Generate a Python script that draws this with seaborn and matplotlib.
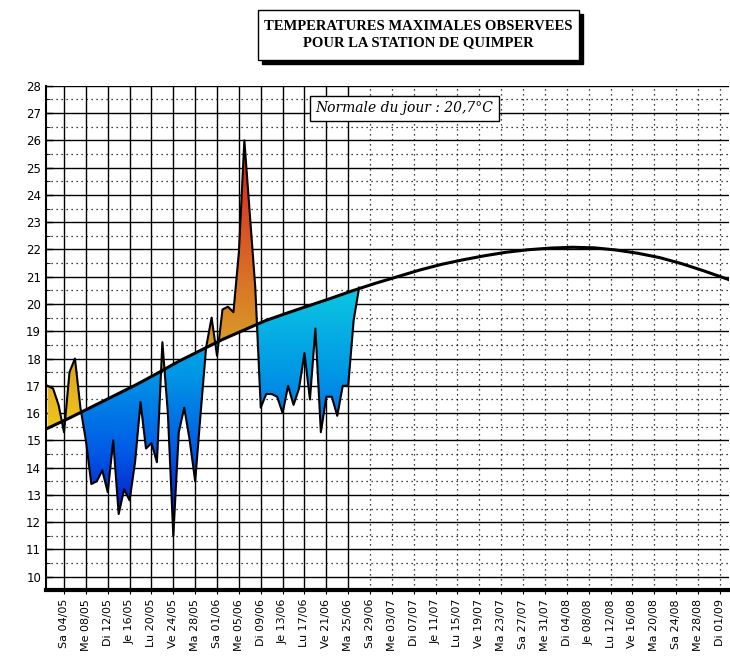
import numpy as np
import pandas as pd
import matplotlib
matplotlib.use("Agg")
import matplotlib.pyplot as plt
from matplotlib.colors import LinearSegmentedColormap
from matplotlib.path import Path
import seaborn as sns
import datetime as dt

# ---- data (day index 0 = 1 May 2013) ----
obs_days = list(range(0, 58))
obs_temps = [17.0, 16.9, 16.3, 15.3, 17.5, 18.0, 16.2, 15.0, 13.4, 13.5,
             13.9, 13.1, 15.0, 12.3, 13.2, 12.8, 14.2, 16.4, 14.7, 14.9,
             14.2, 18.6, 16.0, 11.5, 15.3, 16.2, 15.0, 13.5, 16.0, 18.4,
             19.5, 18.1, 19.8, 19.9, 19.7, 21.9, 26.0, 23.3, 20.6, 16.2,
             16.7, 16.7, 16.6, 16.0, 17.0, 16.3, 16.9, 18.2, 16.5, 19.1,
             15.3, 16.6, 16.6, 15.9, 17.0, 17.0, 19.4, 20.6]
normal_days = [-1, 4, 8, 12, 16, 20, 24, 28, 32, 36, 40, 44, 48, 52, 56, 60, 64,
               68, 72, 76, 80, 84, 88, 92, 96, 100, 104, 108, 112, 116, 120, 124, 126]
normal_temps = [15.35, 15.82, 16.22, 16.62, 17.02, 17.45, 17.9, 18.3, 18.7, 19.05,
                19.4, 19.68, 19.95, 20.22, 20.5, 20.76, 21.0, 21.24, 21.45, 21.62,
                21.77, 21.9, 21.99, 22.05, 22.08, 22.06, 21.98, 21.86, 21.7, 21.48,
                21.22, 20.94, 20.8]
tick_days = list(range(3, 124, 4))
day_abbr = ["Lu", "Ma", "Me", "Je", "Ve", "Sa", "Di"]
start = dt.date(2013, 5, 1)
tick_labels = [f"{day_abbr[(start + dt.timedelta(d)).weekday()]} {(start + dt.timedelta(d)).strftime('%d/%m')}"
               for d in tick_days]
title_text = "TEMPERATURES MAXIMALES OBSERVEES\nPOUR LA STATION DE QUIMPER"
normal_text = "Normale du jour : 20,7°C"

obs = pd.DataFrame({"day": obs_days, "temp": obs_temps})
nrm = pd.DataFrame({"day": normal_days, "temp": normal_temps})

fig = plt.figure(figsize=(7.30, 6.65), dpi=100)
ax = fig.add_axes([0.063, 0.113, 0.935, 0.758])
x0, x1, y0, y1 = -0.3, 124.6, 9.52, 28
ax.set_xlim(x0, x1)
ax.set_ylim(y0, y1)

data_end = 59
for t in range(10, 29):
    ax.axhline(t, color="black", lw=1.0, zorder=1)
for t in np.arange(10.5, 28, 1):
    ax.axhline(t, color="black", lw=0.9, ls=(0, (1, 3)), zorder=1)
for d in tick_days:
    if d < data_end:
        ax.axvline(d, color="black", lw=1.0, zorder=1)
    else:
        ax.axvline(d, color="black", lw=0.9, ls=(0, (1, 3)), zorder=1)

xd = np.array(obs_days, float)
yd = np.array(obs_temps, float)
nd = np.interp(xd, normal_days, normal_temps)
cold = ax.fill_between(xd, yd, nd, where=yd < nd, interpolate=True, color="none")
warm = ax.fill_between(xd, yd, nd, where=yd >= nd, interpolate=True, color="none")
cmap_cold = LinearSegmentedColormap.from_list("c", [(0.05, 0.0, 0.75), (0.0, 0.35, 0.9), (0.0, 0.6, 0.9), (0.05, 0.78, 0.88)])
cmap_warm = LinearSegmentedColormap.from_list("w", [(0.95, 0.8, 0.1), (0.85, 0.6, 0.15), (0.85, 0.35, 0.15), (0.85, 0.1, 0.1)])
grad = np.linspace(0, 1, 256).reshape(-1, 1)
for coll, cm, lo, hi in [(cold, cmap_cold, 11.5, 20.6), (warm, cmap_warm, 15.0, 26.0)]:
    paths = coll.get_paths()
    if not paths:
        continue
    cp = Path.make_compound_path(*paths)
    im = ax.imshow(grad, cmap=cm, aspect="auto", origin="lower",
                   extent=[x0, x1, lo, hi], zorder=2)
    im.set_clip_path(cp, transform=ax.transData)
ax.set_xlim(x0, x1)
ax.set_ylim(y0, y1)

sns.lineplot(data=obs, x="day", y="temp", ax=ax, color="black", lw=1.5, zorder=3)
sns.lineplot(data=nrm, x="day", y="temp", ax=ax, color="black", lw=2.2, zorder=4)

ax.set_xticks(tick_days)
ax.set_xticklabels(tick_labels, rotation=90, fontsize=8, family="DejaVu Sans")
ax.set_yticks(range(10, 29))
ax.set_yticklabels([str(t) for t in range(10, 29)], fontsize=8.5)
ax.set_yticks(np.arange(10.5, 28, 1), minor=True)
ax.tick_params(axis="y", direction="in", length=5, width=1)
ax.tick_params(axis="y", which="minor", direction="in", length=3)
ax.tick_params(axis="x", direction="out", length=3)
ax.set_xlabel("")
ax.set_ylabel("")
for s in ["top", "right"]:
    ax.spines[s].set_visible(False)
ax.spines["left"].set_linewidth(1.5)
ax.spines["bottom"].set_linewidth(3)

ax.text(0.395, 0.955, normal_text, transform=ax.transAxes, fontsize=10,
        family="DejaVu Serif", style="italic", ha="left", va="center",
        bbox=dict(boxstyle="square,pad=0.4", fc="white", ec="black", lw=1), zorder=6)

fig.patches.append(plt.Rectangle((0.359, 0.904), 0.44, 0.075, transform=fig.transFigure,
                                 fc="black", ec="black", zorder=0))
fig.patches.append(plt.Rectangle((0.353, 0.910), 0.44, 0.075, transform=fig.transFigure,
                                 fc="white", ec="black", lw=1, zorder=1))
fig.text(0.573, 0.948, title_text, ha="center", va="center", fontsize=10.5,
         family="Liberation Serif", weight="bold", linespacing=1.25, zorder=2)

fig.savefig("out.png", dpi=100)
